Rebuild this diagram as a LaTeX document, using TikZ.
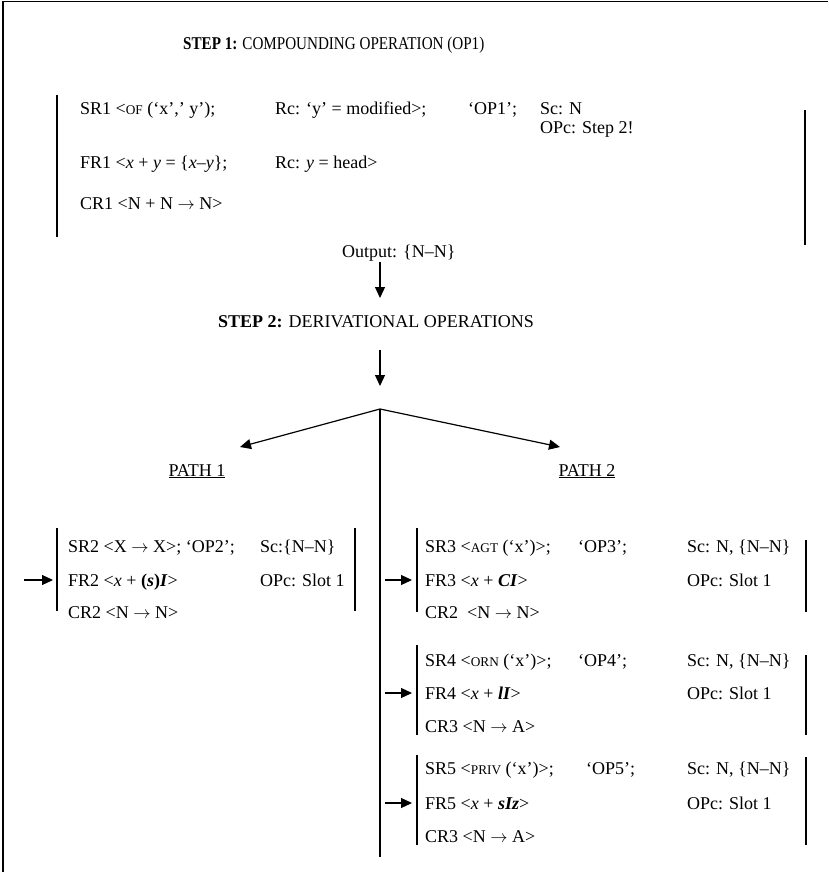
\documentclass[tikz,border=0pt]{standalone}
\usepackage{fontspec}
\setmainfont{Liberation Serif}
\usetikzlibrary{arrows.meta}
\newcommand\smc[1]{{\fontsize{13.3}{14}\selectfont #1}}
\newcommand\rarr{\ensuremath{\rightarrow}}
\begin{document}
\begin{tikzpicture}[x=1pt,y=-1pt,
  txt/.style={anchor=base west,inner sep=0pt,font=\fontsize{18}{20}\selectfont},
  ctxt/.style={txt,anchor=base},
  bar/.style={line width=1.1pt},
  arr/.style={line width=1.2pt,-{Triangle[length=11pt,width=10pt]}},
  frameline/.style={line width=1.1pt}]
\useasboundingbox (0,0) rectangle (828,872);
\draw[frameline] (3,872) -- (3,1.5) -- (828,1.5);

% STEP 1
\node[txt] (t1) at (183,50) {\scalebox{0.84}[1]{\textbf{STEP 1:} COMPOUNDING OPERATION (OP1)}};
\node[txt] (sr1) at (80,114) {SR1 <\smc{OF} (‘x’,’ y’);};
\node[txt] (rc1) at (275,114) {Rc: ‘y’ = modified>;};
\node[txt] (op1) at (468,114) {‘OP1’;};
\node[txt] (sc1) at (540,114) {Sc: N};
\node[txt] (opc1) at (540,133) {OPc: Step 2!};
\node[txt] (fr1) at (80,168) {FR1 <\textit{x} + \textit{y} = \{\textit{x}–\textit{y}\};};
\node[txt] (rc1b) at (275,168) {Rc: \textit{y} = head>};
\node[txt] (cr1) at (80,209) {CR1 <N + N \rarr{} N>};
\draw[bar] (57,95) -- (57,237);
\draw[bar] (805,110) -- (805,245);

\node[txt] (out) at (342,257) {Output: \{N–N\}};
\coordinate (a1s) at (380,262);
\coordinate (a1e) at (380,298);
\draw[arr] (a1s) -- (a1e);

% STEP 2
\node[txt] (t2) at (218,327) {\textbf{STEP 2:} DERIVATIONAL OPERATIONS};
\coordinate (a2s) at (380,350);
\coordinate (a2e) at (380,386);
\draw[arr] (a2s) -- (a2e);

\coordinate (br) at (380,409);
\coordinate (p1a) at (240,447);
\coordinate (p2a) at (560,447);
\coordinate (vend) at (380,857);
\draw[arr] (br) -- (p1a);
\draw[arr] (br) -- (p2a);
\draw[bar] (br) -- (vend);

\node[ctxt] (p1) at (197,476) {\underline{PATH 1}};
\node[ctxt] (p2) at (587,476) {\underline{PATH 2}};

% PATH 1 block
\node[txt] (sr2) at (68,552) {SR2 <X \rarr{} X>; ‘OP2’;};
\node[txt] (sc2) at (260,552) {Sc:\{N–N\}};
\node[txt] (fr2) at (68,586) {FR2 <\textit{x} + \textbf{(\textit{s})\textit{I}}>};
\node[txt] (opc2) at (260,586) {OPc: Slot 1};
\node[txt] (cr2) at (68,618) {CR2 <N \rarr{} N>};
\draw[bar] (57,528) -- (57,611);
\draw[bar] (355,528) -- (355,611);
\coordinate (b1s) at (24,580);
\coordinate (b1e) at (53,580);
\draw[arr] (b1s) -- (b1e);

% PATH 2 block A
\node[txt] (sr3) at (425,552) {SR3 <\smc{AGT} (‘x’)>;};
\node[txt] (op3) at (578,552) {‘OP3’;};
\node[txt] (sc3) at (687,552) {Sc: N, \{N–N\}};
\node[txt] (fr3) at (425,586) {FR3 <\textit{x} + \textbf{\textit{CI}}>};
\node[txt] (opc3) at (687,586) {OPc: Slot 1};
\node[txt] (cr2b) at (425,618) {CR2\ \ <N \rarr{} N>};
\draw[bar] (417,528) -- (417,612);
\draw[bar] (806,540) -- (806,612);
\coordinate (bas) at (385,580);
\coordinate (bae) at (412,580);
\draw[arr] (bas) -- (bae);

% PATH 2 block B
\node[txt] (sr4) at (425,666) {SR4 <\smc{ORN} (‘x’)>;};
\node[txt] (op4) at (578,666) {‘OP4’;};
\node[txt] (sc4) at (687,666) {Sc: N, \{N–N\}};
\node[txt] (fr4) at (425,699) {FR4 <\textit{x} + \textbf{\textit{lI}}>};
\node[txt] (opc4) at (687,699) {OPc: Slot 1};
\node[txt] (cr3) at (425,732) {CR3 <N \rarr{} A>};
\draw[bar] (417,645) -- (417,735);
\draw[bar] (806,655) -- (806,735);
\coordinate (bbs) at (385,693);
\coordinate (bbe) at (412,693);
\draw[arr] (bbs) -- (bbe);

% PATH 2 block C
\node[txt] (sr5) at (425,774) {SR5 <\smc{PRIV} (‘x’)>;};
\node[txt] (op5) at (586,774) {‘OP5’;};
\node[txt] (sc5) at (687,774) {Sc: N, \{N–N\}};
\node[txt] (fr5) at (425,809) {FR5 <\textit{x} + \textbf{\textit{sIz}}>};
\node[txt] (opc5) at (687,809) {OPc: Slot 1};
\node[txt] (cr3b) at (425,842) {CR3 <N \rarr{} A>};
\draw[bar] (417,755) -- (417,845);
\draw[bar] (806,757) -- (806,845);
\coordinate (bcs) at (385,803);
\coordinate (bce) at (412,803);
\draw[arr] (bcs) -- (bce);
\end{tikzpicture}
\end{document}
